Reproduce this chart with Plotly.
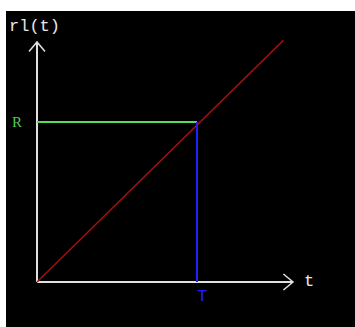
import plotly.graph_objects as go

# schematic values (units: T = 1, R = 1)
ramp_t = [0.0, 1.54]
ramp_r = [0.0, 1.51]
T = 1.0
R = 1.0
x_axis_end = 1.6
y_axis_end = 1.5
x_label = "t"
y_label = "rl(t)"
R_label = "R"
T_label = "T"

AX = "#e0e0e0"
fig = go.Figure()
# axes
fig.add_trace(go.Scatter(x=[0, x_axis_end], y=[0, 0], mode="lines", line=dict(color=AX, width=2)))
fig.add_trace(go.Scatter(x=[0, 0], y=[0, y_axis_end], mode="lines", line=dict(color=AX, width=2)))
# arrow heads
a = 0.05
fig.add_trace(go.Scatter(x=[-a, 0, a], y=[y_axis_end - 1.2 * a, y_axis_end, y_axis_end - 1.2 * a],
                         mode="lines", line=dict(color=AX, width=1.5)))
fig.add_trace(go.Scatter(x=[x_axis_end - 1.2 * a, x_axis_end, x_axis_end - 1.2 * a], y=[a, 0, -a],
                         mode="lines", line=dict(color=AX, width=1.5)))
# ramp
fig.add_trace(go.Scatter(x=ramp_t, y=ramp_r, mode="lines", line=dict(color="#a01010", width=1.5)))
# R level
fig.add_trace(go.Scatter(x=[0, T], y=[R, R], mode="lines", line=dict(color="#55dd55", width=2)))
# T drop
fig.add_trace(go.Scatter(x=[T, T], y=[R, 0], mode="lines", line=dict(color="#2020ff", width=2)))

font = dict(family="Liberation Mono, Courier New, monospace", size=17)
fig.add_annotation(x=-0.19, y=1.595, text=y_label, showarrow=False, xanchor="left",
                   font=dict(color="#e8e8e8", **font))
fig.add_annotation(x=-0.125, y=R, text=R_label, showarrow=False,
                   font=dict(color="#55cc55", family="Liberation Serif, serif", size=15))
fig.add_annotation(x=1.7, y=0.005, text=x_label, showarrow=False,
                   font=dict(color="#e8e8e8", **font))
fig.add_annotation(x=T + 0.03, y=-0.09, text=T_label, showarrow=False,
                   font=dict(color="#2020ff", **font))

# white frame strips (top and left) outside the black area
fig.add_shape(type="rect", xref="paper", yref="paper", x0=-0.1, x1=1.1, y0=1.0, y1=1.1,
              fillcolor="white", line=dict(width=0), layer="above")
fig.add_shape(type="rect", xref="paper", yref="paper", x0=-0.1, x1=0.0, y0=-0.1, y1=1.1,
              fillcolor="white", line=dict(width=0), layer="above")

fig.update_layout(
    width=355, height=327,
    margin=dict(l=6, r=0, t=11, b=0),
    paper_bgcolor="black", plot_bgcolor="black",
    showlegend=False,
    xaxis=dict(range=[-31 / 160, 318 / 160], visible=False, fixedrange=True),
    yaxis=dict(range=[-45 / 160, 271 / 160], visible=False, fixedrange=True),
)
fig.write_html("out.html", config={"displayModeBar": False},
               post_script="document.body.style.margin='0';document.body.style.overflow='hidden';document.body.style.background='black';")
